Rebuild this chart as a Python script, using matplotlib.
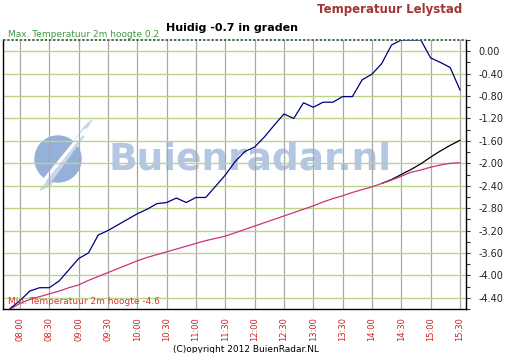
import numpy as np
import matplotlib
matplotlib.use("Agg")
import matplotlib.pyplot as plt
from matplotlib.patches import Circle, Polygon

# minutes after 08:00, one reading every 10 minutes (07:50 .. 15:30)
minutes = list(range(-10, 451, 10))

temp = [-4.59, -4.45, -4.28, -4.22, -4.22, -4.10, -3.90, -3.70, -3.60, -3.28,
        -3.20, -3.10, -3.00, -2.90, -2.82, -2.72, -2.70, -2.62, -2.70, -2.61,
        -2.61, -2.41, -2.21, -1.97, -1.79, -1.71, -1.53, -1.32, -1.12, -1.20,
        -0.92, -1.00, -0.91, -0.91, -0.81, -0.81, -0.51, -0.41, -0.22, 0.11,
        0.20, 0.20, 0.20, -0.12, -0.20, -0.29, -0.69]

avg = [-4.60, -4.50, -4.43, -4.38, -4.33, -4.28, -4.22, -4.17, -4.09, -4.02,
       -3.95, -3.88, -3.81, -3.74, -3.68, -3.63, -3.58, -3.53, -3.48, -3.43,
       -3.38, -3.34, -3.30, -3.24, -3.18, -3.12, -3.06, -3.00, -2.94, -2.88,
       -2.82, -2.76, -2.69, -2.63, -2.58, -2.52, -2.47, -2.42, -2.36, -2.30,
       -2.23, -2.16, -2.12, -2.07, -2.03, -2.00, -1.99]

trend_minutes = list(range(370, 451, 10))
trend = [-2.36, -2.29, -2.20, -2.11, -2.01, -1.89, -1.78, -1.68, -1.59]

tick_minutes = list(range(0, 451, 30))
tick_labels = ["08:00", "08:30", "09:00", "09:30", "10:00", "10:30", "11:00", "11:30",
               "12:00", "12:30", "13:00", "13:30", "14:00", "14:30", "15:00", "15:30"]
y_ticks = [0.0, -0.4, -0.8, -1.2, -1.6, -2.0, -2.4, -2.8, -3.2, -3.6, -4.0, -4.4]

t_max = 0.2
t_min = -4.6

W, H = 506, 353
fig = plt.figure(figsize=(W / 100, H / 100), dpi=100, facecolor="white")

# watermark layer, pixel coordinates
bg = fig.add_axes([0, 0, 1, 1], zorder=0)
bg.set_xlim(0, W)
bg.set_ylim(H, 0)
bg.axis("off")
bg.add_patch(Polygon([(40, 190), (85, 126), (92, 120), (50, 186)], color="#c9d7ec"))
bg.add_patch(Circle((58, 159), 23, color="#95b0d9"))
bg.add_patch(Polygon([(38, 186), (84, 130), (87, 129), (42, 186)], color="white"))
bg.add_patch(Polygon([(46, 182), (80, 140), (84, 136), (52, 180)], color="#c9d7ec"))
bg.text(250, 160, "Buienradar.nl", fontsize=27, fontweight="bold", color="#b3c6e4",
        ha="center", va="center")

ax = fig.add_axes([3 / W, 1 - 309 / H, 463 / W, 269 / H], zorder=1)
ax.set_facecolor("none")
ax.set_xlim(-17.4, 456.2)
ax.set_ylim(t_min, t_max)

for m in tick_minutes:
    ax.axvline(m, color="#a8a8a8", lw=0.9, zorder=1)
for v in y_ticks:
    ax.axhline(v, color="#bcd48a", lw=1.0, zorder=1)

ax.plot(trend_minutes, trend, color="black", lw=0.9, zorder=3)
ax.plot(minutes, avg, color="#cc3377", lw=0.9, zorder=4)
ax.plot(minutes, temp, color="#000080", lw=0.9, zorder=5)

ax.axhline(t_max, color="#2f5a2f", lw=1.2, ls=(0, (1.5, 1)), zorder=6, clip_on=False)
ax.spines["top"].set_visible(False)
for s in ["left", "bottom", "right"]:
    ax.spines[s].set_color("black")
    ax.spines[s].set_linewidth(1.0)

ax.set_xticks(tick_minutes)
ax.set_xticklabels(tick_labels, rotation=90, fontsize=6, color="#cc2222")
ax.tick_params(axis="x", length=0, pad=6)

ax.yaxis.tick_right()
ax.set_yticks(y_ticks)
ax.set_yticklabels(["%.2f" % v for v in y_ticks], fontsize=7, color="#222222")
ax.set_yticks(np.arange(-4.6, 0.21, 0.4), minor=True)
ax.tick_params(axis="y", which="both", length=3, width=0.8, pad=6, color="#333333")

ax.text(0.01, 1.005, "Max. Temperatuur 2m hoogte 0.2", transform=ax.transAxes,
        fontsize=6.5, color="#3f9a3f", va="bottom", ha="left")
ax.text(0.01, 0.01, "Min. Temperatuur 2m hoogte -4.6", transform=ax.transAxes,
        fontsize=6.5, color="#dd3333", va="bottom", ha="left", zorder=7)

fig.text(232 / W, 1 - 28 / H, "Huidig -0.7 in graden", fontsize=8, fontweight="bold",
         color="black", ha="center", va="center")
fig.text(462 / W, 1 - 10 / H, "Temperatuur Lelystad", fontsize=8.5, fontweight="bold",
         color="#a33333", ha="right", va="center")
fig.text(246 / W, 1 - 349 / H, "(C)opyright 2012 BuienRadar.NL", fontsize=6.5,
         color="black", ha="center", va="center")

fig.savefig("out.png", dpi=100, facecolor="white")
